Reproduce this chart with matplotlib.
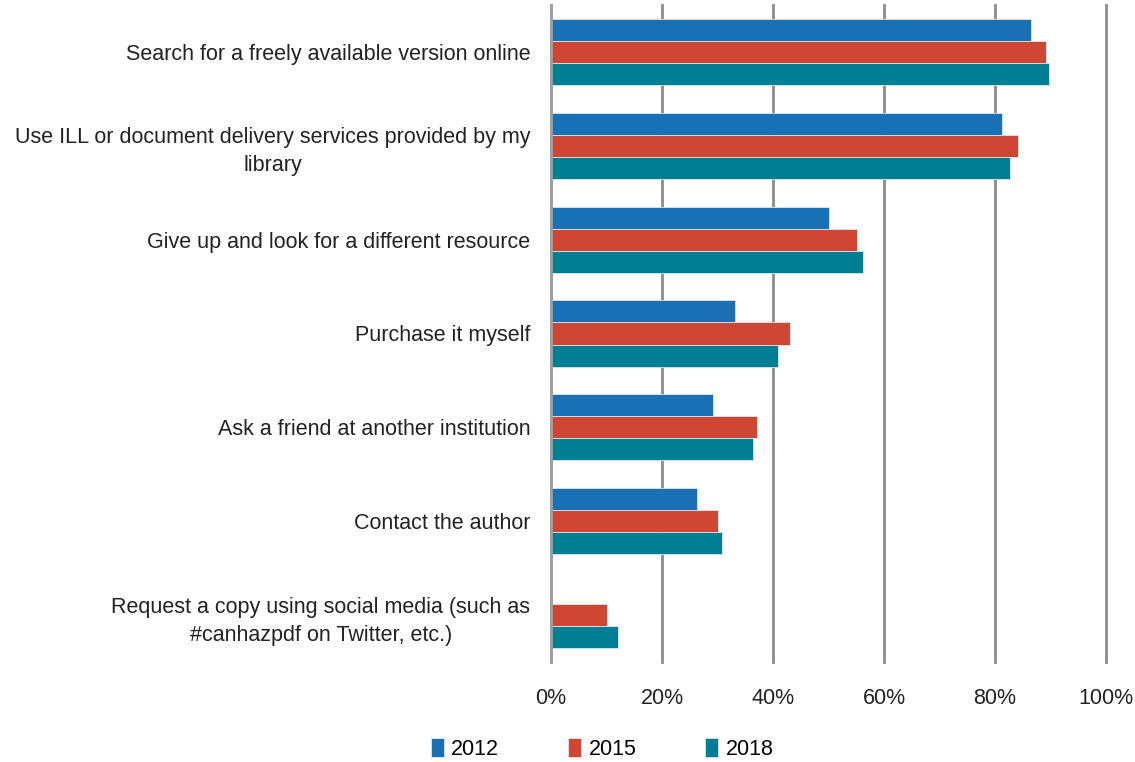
import numpy as np
import matplotlib
matplotlib.use("Agg")
import matplotlib.pyplot as plt

# -- data --
categories = [
    "Search for a freely available version online",
    "Use ILL or document delivery services provided by my\nlibrary",
    "Give up and look for a different resource",
    "Purchase it myself",
    "Ask a friend at another institution",
    "Contact the author",
    "Request a copy using social media (such as\n#canhazpdf on Twitter, etc.)",
]
years = ["2012", "2015", "2018"]
v2012 = [86.5, 81.3, 50.1, 33.2, 29.2, 26.3, 0.0]
v2015 = [89.2, 84.1, 55.1, 43.1, 37.1, 30.1, 10.1]
v2018 = [89.7, 82.7, 56.2, 40.9, 36.4, 30.8, 12.1]
ticks = [0, 20, 40, 60, 80, 100]

COLORS = ["#1a70b4", "#d04634", "#007f94"]

plt.rcParams["font.family"] = ["Liberation Sans Narrow", "Liberation Sans", "DejaVu Sans"]

fig = plt.figure(figsize=(11.35, 7.62), dpi=100)
ax = fig.add_axes([551 / 1135, 1 - 662 / 762, 555 / 1135, 657 / 762])

y = np.arange(len(categories))
h = 0.235
for i, (vals, yr) in enumerate(zip([v2012, v2015, v2018], years)):
    ax.barh(y + (i - 1) * h, vals, height=h, color=COLORS[i],
            edgecolor="#d9e6ee", linewidth=0.6, label=yr, zorder=3)

ax.set_ylim(len(categories) - 0.5, -0.5)
ax.set_xlim(0, 100)
ax.set_xticks(ticks)
ax.set_xticklabels([f"{t}%" for t in ticks], fontsize=15.5, color="#222222")
ax.set_yticks(y)
ax.set_yticklabels(categories, fontsize=15.5, color="#222222")
ax.tick_params(axis="y", length=0, pad=15)
ax.tick_params(axis="x", length=0, pad=19)
for lab in ax.get_yticklabels():
    lab.set_multialignment("center")
    lab.set_linespacing(1.45)
ax.grid(axis="x", color="#8c8c8c", linewidth=2, zorder=0)
for ln in ax.get_xgridlines():
    ln.set_clip_on(False)
for s in ["top", "right", "bottom"]:
    ax.spines[s].set_visible(False)
ax.spines["left"].set_color("#a0a0a0")
ax.spines["left"].set_linewidth(2)
ax.spines["left"].set_zorder(4)

ax.legend(loc="lower center", bbox_to_anchor=(0.092, -0.178), ncol=3, frameon=False,
          fontsize=15.5, handlelength=0.6, handleheight=1.0, handletextpad=0.35,
          columnspacing=3.2)

fig.savefig("out.png", dpi=100)
